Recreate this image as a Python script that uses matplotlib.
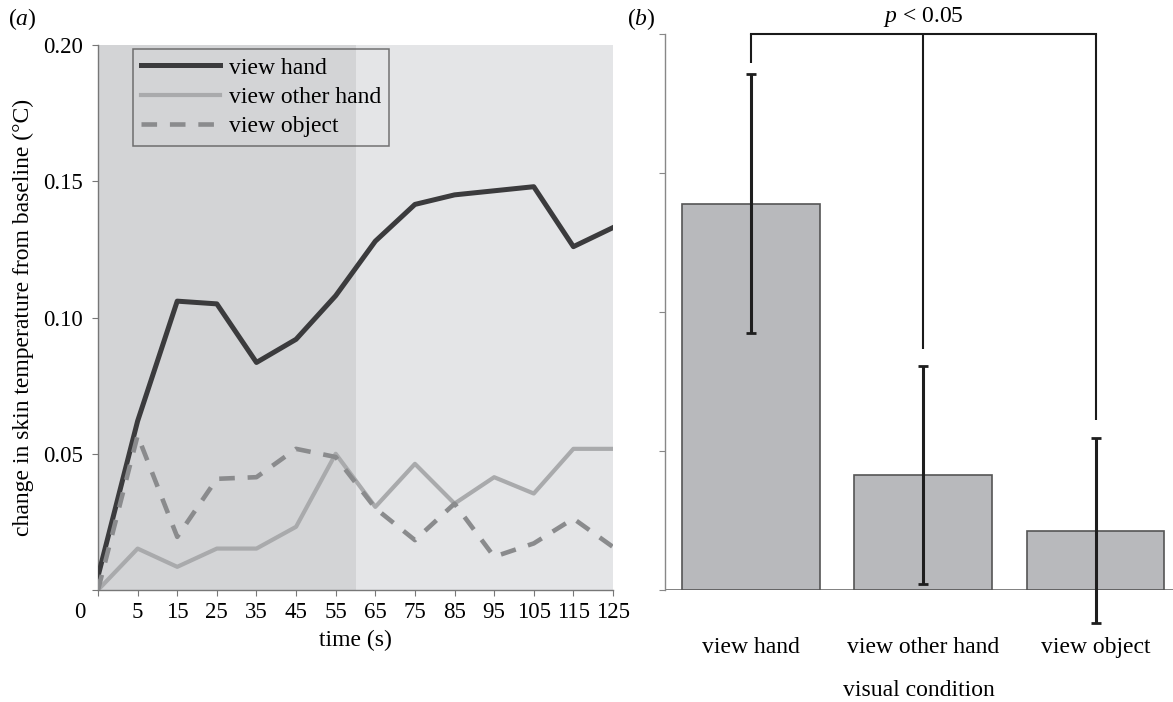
import numpy as np
import matplotlib
matplotlib.use("Agg")
import matplotlib.pyplot as plt

plt.rcParams['font.family'] = ['Liberation Serif', 'DejaVu Serif']
plt.rcParams['mathtext.fontset'] = 'custom'
plt.rcParams['mathtext.rm'] = 'Liberation Serif'
plt.rcParams['mathtext.it'] = 'Liberation Serif:italic'

# panel (a) data: change in skin temperature (deg C) per time bin
time_labels = ['0', '5', '15', '25', '35', '45', '55', '65', '75', '85', '95', '105', '115', '125']
view_hand = [0.005, 0.062, 0.106, 0.105, 0.0835, 0.092, 0.108, 0.128, 0.1415, 0.145, 0.1465, 0.148, 0.126, 0.133]
view_other = [0.0, 0.0152, 0.0085, 0.0152, 0.0152, 0.0232, 0.050, 0.0305, 0.0463, 0.0317, 0.0414, 0.0354, 0.0518, 0.0518]
view_object = [0.0, 0.0567, 0.0195, 0.0408, 0.0414, 0.0518, 0.0488, 0.030, 0.0183, 0.0317, 0.0122, 0.0171, 0.0262, 0.0158]
shade_split = 6.5  # between 55 and 65 s

# panel (b) data
conditions = ['view hand', 'view other hand', 'view object']
bar_means = [0.139, 0.0413, 0.0214]
bar_err = [0.0467, 0.0392, 0.0333]
bracket_top = 0.2
bracket_ends = [0.1897, 0.0868, 0.061]

W, H = 1173, 702
fig = plt.figure(figsize=(W / 100, H / 100), dpi=100)

# ---- panel (a)
ax1 = fig.add_axes([98 / W, (H - 590) / H, 515 / W, 545 / H])
x = np.arange(len(time_labels))
ax1.axvspan(0, shade_split, color='#d3d4d6', lw=0, zorder=0)
ax1.axvspan(shade_split, len(x) - 1, color='#e4e5e7', lw=0, zorder=0)
ax1.plot(x, view_hand, color='#3b3b3d', lw=3.6, label='view hand', zorder=3)
ax1.plot(x, view_other, color='#a9aaac', lw=3.0, label='view other hand', zorder=3)
ax1.plot(x, view_object, color='#8a8b8d', lw=3.3, ls=(0, (3.4, 2.8)), label='view object', zorder=4)

ax1.set_xlim(0, len(x) - 1)
ax1.set_ylim(0, 0.2)
ax1.set_xticks(x)
ax1.set_xticklabels([''] + time_labels[1:])
ax1.set_yticks([0, 0.05, 0.10, 0.15, 0.20])
ax1.set_yticklabels(['', '0.05', '0.10', '0.15', '0.20'])
for s in ['top', 'right']:
    ax1.spines[s].set_visible(False)
for s in ['left', 'bottom']:
    ax1.spines[s].set_color('#777777')
    ax1.spines[s].set_linewidth(1.0)
ax1.tick_params(axis='both', direction='out', length=4, color='#777777', labelsize=16.5)
ax1.tick_params(axis='x', pad=5)
ax1.tick_params(axis='y', pad=7)
ax1.annotate('0', xy=(0, 0), xycoords='axes fraction', xytext=(-18, -22),
             textcoords='offset pixels', ha='center', va='center', fontsize=16.5)
ax1.set_xlabel('time (s)', fontsize=17)
ax1.xaxis.set_label_coords(0.5, -0.074)
ax1.set_ylabel('change in skin temperature from baseline (\u00b0C)', fontsize=17)
ax1.yaxis.set_label_coords(-0.125, 0.5)

leg = ax1.legend(loc='upper left', bbox_to_anchor=(0.068, 0.993), borderaxespad=0,
                 fontsize=17, handlelength=3.35, handletextpad=0.35, labelspacing=0.33,
                 borderpad=0.35, fancybox=False, edgecolor='#555555', facecolor='none')
leg.get_frame().set_linewidth(1.1)

# ---- panel (b)
ax2 = fig.add_axes([665 / W, (H - 590) / H, 508 / W, 556 / H])
xb = np.arange(len(conditions))
ax2.axhline(0, color='#777777', lw=1.3, zorder=1)
ax2.bar(xb, bar_means, width=0.8, color='#b8b9bc', edgecolor='#555555', linewidth=1.2, zorder=2)
eb = ax2.errorbar(xb, bar_means, yerr=bar_err, fmt='none', ecolor='#1e1e1e',
                  elinewidth=2.2, capsize=3.5, capthick=2, zorder=3)
for art in eb.get_children():
    art.set_clip_on(False)
ax2.plot([xb[0], xb[-1]], [bracket_top, bracket_top], color='#1a1a1a', lw=1.5, clip_on=False)
ax2.vlines(xb, bracket_ends, bracket_top, color='#1a1a1a', lw=1.5, clip_on=False)

ax2.set_xlim(-0.5, 2.45)
ax2.set_ylim(0, 0.2)
ax2.set_yticks([0, 0.05, 0.10, 0.15, 0.20])
ax2.set_yticklabels([])
ax2.set_xticks(xb)
ax2.set_xticklabels(conditions)
for s in ['top', 'right', 'bottom']:
    ax2.spines[s].set_visible(False)
ax2.spines['left'].set_color('#888888')
ax2.spines['left'].set_linewidth(1.0)
ax2.tick_params(axis='y', direction='out', length=4.3, color='#888888')
ax2.tick_params(axis='x', length=0, pad=34, labelsize=17)
ax2.set_xlabel('visual condition', fontsize=17)
ax2.xaxis.set_label_coords(0.5, -0.162)

fig.text(22 / W, 1 - 19 / H, '($a$)', ha='center', va='center', fontsize=17)
fig.text(641 / W, 1 - 19 / H, '($b$)', ha='center', va='center', fontsize=17)
fig.text(923 / W, 1 - 17 / H, '$p$ < 0.05', ha='center', va='center', fontsize=17)

fig.savefig('out.png', dpi=100)
